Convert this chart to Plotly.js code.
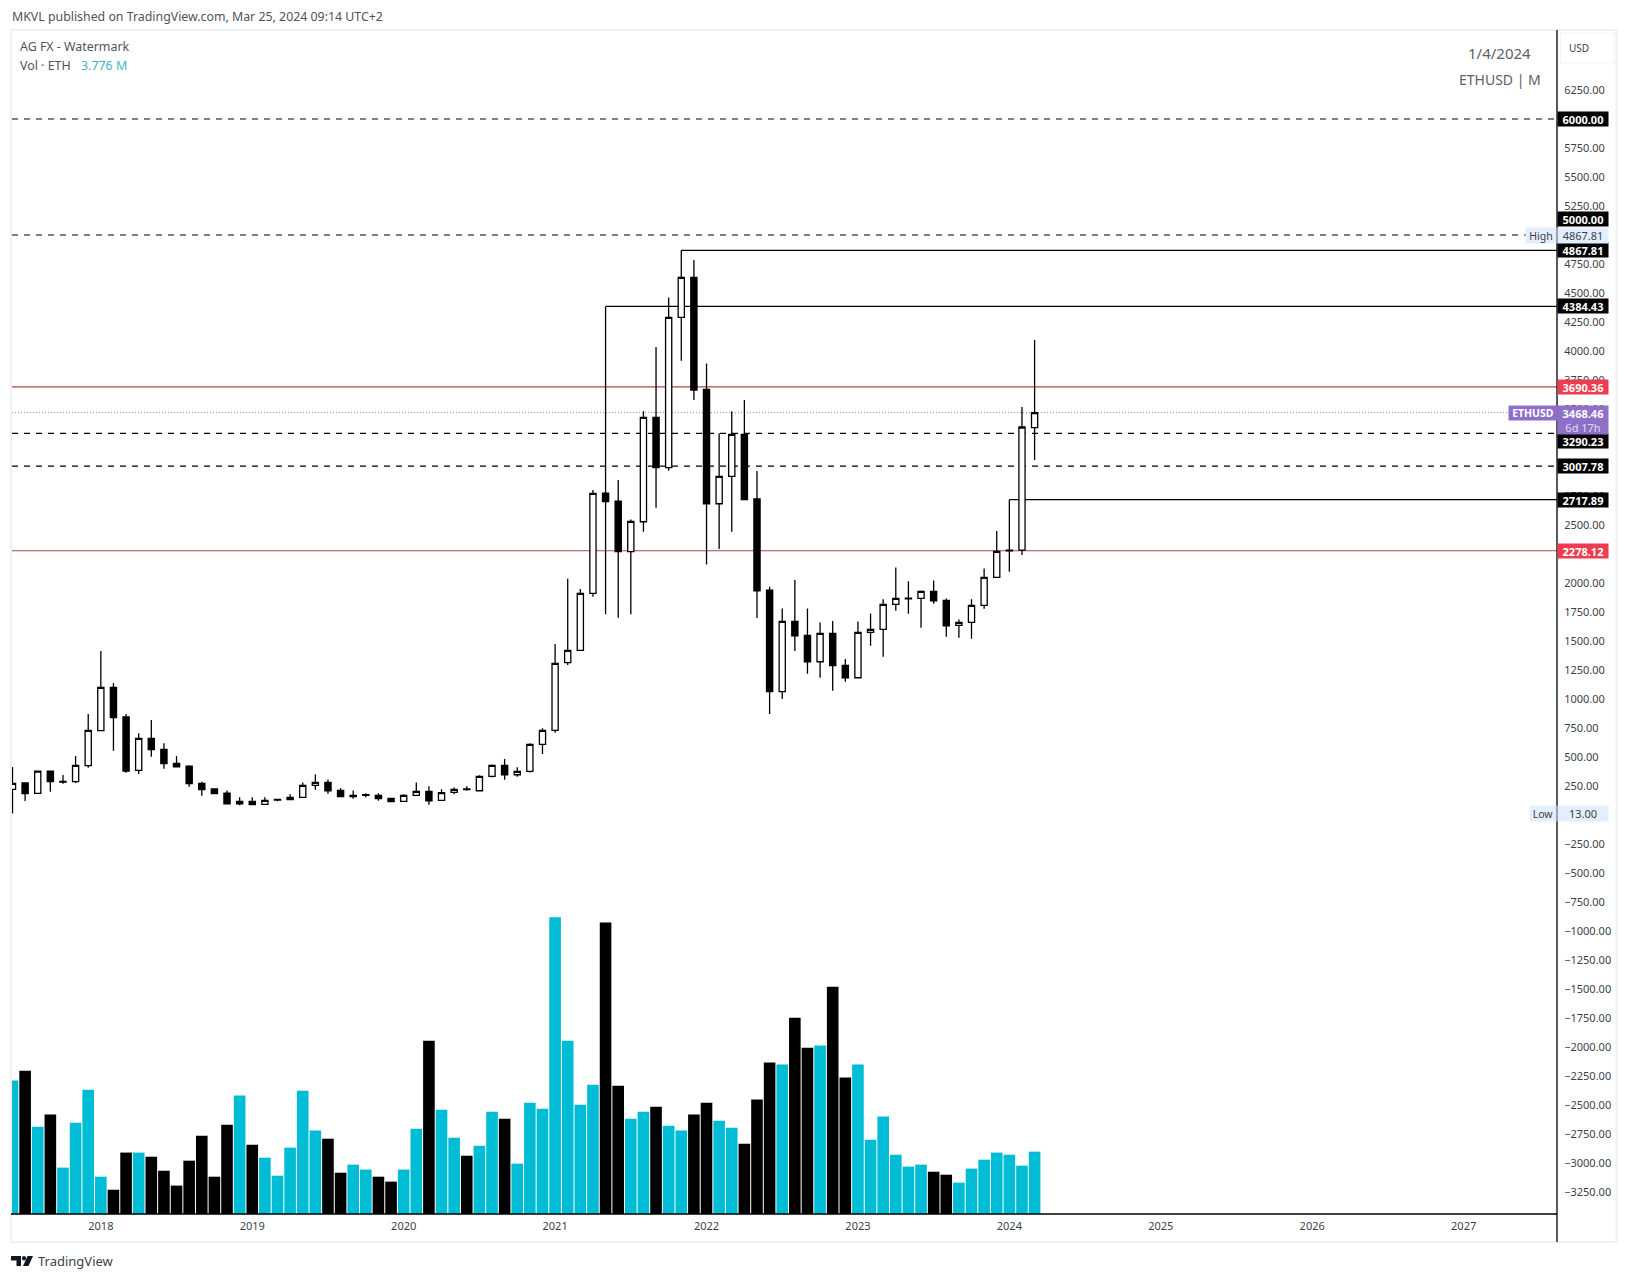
<!DOCTYPE html>
<html><head><meta charset="utf-8">
<script src="https://cdn.plot.ly/plotly-3.0.1.min.js"></script>
<style>html,body{margin:0;padding:0;background:#fff}#c{width:1629px;height:1280px}</style>
</head><body><div id="c"></div>
<script>
const open  = [221,276,187,379,284,287,425,727,1100,845,385,661,566,445,422,273,224,189,97,118,92,128,132,152,255,281,212,169,170,169,143,118,169,204,126,195,218,209,333,428,347,376,609,730,1314,1419,1910,2775,2706,2270,2528,3428,2994,4290,4635,3669,2683,2919,3281,2724,1939,1063,1669,1548,1321,1565,1289,1183,1574,1600,1816,1864,1867,1927,1850,1634,1660,1807,2048,2278,2283,3340];
const high  = [414,281,382,382,345,508,870,1414,1138,870,704,819,618,508,428,287,224,212,152,152,152,138,178,281,350,307,230,212,187,187,143,178,281,247,221,238,247,342,436,482,411,618,747,1474,2036,1948,2801,4384,2887,2548,3480,4034,4462,4868,4784,3893,3290,3480,3577,2965,1968,1781,2025,1781,1660,1672,1344,1669,1738,1859,2134,2014,1936,2022,1867,1686,1859,2126,2448,2717,3517,4095];
const low   = [13,120,187,201,270,276,408,727,554,365,353,503,399,414,244,166,183,97,83,89,92,118,132,152,218,184,158,141,152,123,115,118,169,89,126,178,209,209,324,304,330,367,526,710,1293,1419,1882,1730,1700,1730,2442,2649,2968,3916,3577,2160,2293,2442,2718,1698,871,999,1413,1218,1183,1071,1149,1183,1459,1364,1761,1735,1614,1821,1537,1528,1519,1778,2048,2097,2241,3060];
const close = [273,184,379,287,290,428,730,1100,839,379,661,563,442,416,270,218,184,97,118,89,126,135,152,255,281,209,158,158,175,141,115,169,204,123,192,221,224,333,428,347,376,609,730,1307,1419,1910,2772,2701,2270,2531,3428,2994,4290,4635,3663,2683,2919,3281,2718,1933,1063,1669,1545,1321,1565,1287,1183,1574,1600,1816,1867,1870,1927,1847,1631,1660,1807,2048,2272,2283,3345,3468.46];
const volumeM = [8.08,8.68,5.29,6.02,2.81,5.53,7.53,2.26,1.47,3.72,3.72,3.47,2.62,1.72,3.23,4.74,2.26,5.41,7.17,4.20,3.41,2.32,4.02,7.47,5.05,4.56,2.50,2.99,2.69,2.26,1.96,2.69,5.17,10.50,6.32,4.62,3.53,4.14,6.20,5.77,3.05,6.74,6.38,17.97,10.50,6.62,7.83,17.65,7.77,5.77,6.20,6.50,5.35,5.05,6.02,6.74,5.65,5.23,4.26,6.93,9.17,9.05,11.89,10.07,10.20,13.77,8.26,9.05,4.50,5.90,3.59,2.87,2.99,2.56,2.38,1.90,2.75,3.29,3.72,3.59,2.93,3.776];
const volumeDownBars = [1,3,8,9,11,12,13,14,15,16,17,19,25,26,29,30,33,36,39,47,48,51,54,55,58,59,60,62,63,65,66,73,74];
const yearBars = [7,19,31,43,55,67,79,91,103,115];
const yearLabels = ['2018','2019','2020','2021','2022','2023','2024','2025','2026','2027'];
const dashedLevels = [6000,5000,3290.23,3007.78];
const redLevels = [3690.36,2278.12];
const dottedLevel = 3468.46;
const originBars = [53,47,79];
const originLevels = [4867.81,4384.43,2717.89];
const blackLabels = ['6000.00','5000.00','4867.81','4384.43','3290.23','3007.78','2717.89'];
const blackLabelLevels = [6000,5000,4867.81,4384.43,3290.23,3007.78,2717.89];
const blackLabelShift = [0,-16,0,0,8,0,0];
const redLabels = ['3690.36','2278.12'];

const L=12,R=1557.5,T=31,B=1214;
const px=x=>(x-L)/(R-L), py=y=>(B-y)/(B-T);
const idx = open.map((_,i)=>i);
const FONT='"Noto Sans", sans-serif';
const XMAX=122.4;

const shapes=[];
dashedLevels.forEach(v=>shapes.push({type:'line',layer:'below',xref:'paper',x0:0,x1:1,yref:'y',y0:v,y1:v,line:{color:'#000',width:1.2,dash:'6px,6px'}}));
redLevels.forEach(v=>shapes.push({type:'line',layer:'below',xref:'paper',x0:0,x1:1,yref:'y',y0:v,y1:v,line:{color:'#b5434d',width:1.2}}));
shapes.push({type:'line',layer:'below',xref:'paper',x0:0,x1:1,yref:'y',y0:dottedLevel,y1:dottedLevel,line:{color:'#8a8d96',width:1,dash:'1px,2px'}});
originLevels.forEach((v,k)=>shapes.push({type:'line',layer:'below',xref:'x',x0:originBars[k],x1:XMAX,yref:'y',y0:v,y1:v,line:{color:'#000',width:1.3}}));
const rectP=(x0,y0,x1,y1,o)=>Object.assign({type:'rect',xref:'paper',yref:'paper',x0:px(x0),x1:px(x1),y0:py(y0),y1:py(y1)},o);
shapes.push(rectP(11,30,1617,1242,{line:{color:'#eff1f4',width:2}}));
shapes.push({type:'line',xref:'paper',yref:'paper',x0:1,x1:1,y0:py(30),y1:py(1242),line:{color:'#000',width:1.3}});
shapes.push({type:'line',xref:'paper',yref:'paper',x0:px(11),x1:1,y0:0,y1:0,line:{color:'#000',width:1.3}});
shapes.push(rectP(1561,33,1615,63,{line:{color:'#f2f3f6',width:1.2}}));
// TradingView mark
const P=(x,y)=>px(x).toFixed(5)+','+py(y).toFixed(5);
shapes.push({type:'path',xref:'paper',yref:'paper',fillcolor:'#131722',line:{width:0},path:'M'+P(11,1256)+'L'+P(21,1256)+'L'+P(21,1266)+'L'+P(16.5,1266)+'L'+P(16.5,1260.5)+'L'+P(11,1260.5)+'Z'});
shapes.push({type:'circle',xref:'paper',yref:'paper',fillcolor:'#131722',line:{width:0},x0:px(22),x1:px(26),y0:py(1260.5),y1:py(1256)});
shapes.push({type:'path',xref:'paper',yref:'paper',fillcolor:'#131722',line:{width:0},path:'M'+P(27.5,1256)+'L'+P(33,1256)+'L'+P(28.5,1266)+'L'+P(23,1266)+'Z'});

const ann=[];
const txt=(text,x,y,size,color,o)=>ann.push(Object.assign({text,xref:'paper',yref:'paper',x:px(x),y:py(y),xanchor:'left',yanchor:'middle',showarrow:false,font:{family:FONT,size,color}},o||{}));
txt('MKVL published on TradingView.com, Mar 25, 2024 09:14 UTC+2',9.5,16,12.35,'#50535e');
txt('AG FX - Watermark',18,46,12.4,'#50535e');
txt('Vol · ETH',18,65.5,12.4,'#50535e');
txt('3.776 M',79,65.5,12.4,'#3bb6c6');
txt('1/4/2024',1500,53,15,'#5d606b',{xanchor:'center'});
txt('ETHUSD | M',1500,79,14,'#5d606b',{xanchor:'center'});
txt('USD',1580,48,10,'#3c3f4a',{xanchor:'center'});
txt('TradingView',36,1261,13,'#3c3f4a');

const pill=(text,level,bg,color,shift,extra)=>ann.push(Object.assign({text,xref:'paper',x:1,xanchor:'left',xshift:0,yref:'y',y:level,yanchor:'middle',yshift:-shift,showarrow:false,width:50,height:14,align:'center',valign:'middle',bgcolor:bg,borderpad:0,font:{family:FONT,size:11,color,weight:'bold'}},extra||{}));
blackLabels.forEach((t,k)=>pill(t,blackLabelLevels[k],'#000','#fff',blackLabelShift[k]));
pill(redLabels[0],redLevels[0],'#ee3d50','#fff',0);
pill(redLabels[1],redLevels[1],'#ee3d50','#fff',0);
pill('4867.81',4995,'#e3effd','#3c3f4a',0,{font:{family:FONT,size:11,color:'#3c3f4a'},height:15});
pill('High',4995,'#e3effd','#3c3f4a',0,{x:px(1525),width:30,height:15,font:{family:FONT,size:10.5,color:'#3c3f4a'}});
pill('13.00',13,'#e3effd','#3c3f4a',0,{font:{family:FONT,size:11,color:'#3c3f4a'},height:15});
pill('Low',13,'#e3effd','#3c3f4a',0,{x:px(1529),width:26,height:15,font:{family:FONT,size:10.5,color:'#3c3f4a'}});
// last price tag
ann.push({text:'3468.46',xref:'paper',x:1,xanchor:'left',yref:'y',y:dottedLevel,yanchor:'middle',showarrow:false,width:50,height:14,bgcolor:'#8f70c9',borderpad:0,font:{family:FONT,size:11,color:'#fff',weight:'bold'}});
ann.push({text:'6d 17h',xref:'paper',x:1,xanchor:'left',yref:'y',y:dottedLevel,yanchor:'middle',yshift:-14,showarrow:false,width:50,height:14,bgcolor:'#8f70c9',borderpad:0,font:{family:FONT,size:11,color:'#e2d8f5'}});
ann.push({text:'ETHUSD',xref:'paper',x:px(1508),xanchor:'left',yref:'y',y:dottedLevel,yanchor:'middle',showarrow:false,width:48,height:14,bgcolor:'#8f70c9',borderpad:0,font:{family:FONT,size:10.5,color:'#fff',weight:'bold'}});

const volColor = volumeM.map((_,i)=>volumeDownBars.includes(i)?'#000':'#00bcd4');
const tv=[];for(let v=-3250;v<=6250;v+=250)tv.push(v);

Plotly.newPlot('c',[
 {type:'bar',x:idx,y:volumeM,yaxis:'y2',marker:{color:volColor,line:{width:0}},hoverinfo:'skip'},
 {type:'candlestick',x:idx,open,high,low,close,whiskerwidth:0,
  increasing:{line:{color:'#000',width:1.3},fillcolor:'#fff'},
  decreasing:{line:{color:'#000',width:1.3},fillcolor:'#000'}}
],{
 width:1629,height:1280,autosize:false,showlegend:false,bargap:0.08,
 paper_bgcolor:'#fff',plot_bgcolor:'#fff',
 margin:{l:L,r:1629-R,t:T,b:1280-B,pad:0},
 xaxis:{type:'linear',range:[-0.04,XMAX],tickmode:'array',tickvals:yearBars,ticktext:yearLabels,showgrid:false,zeroline:false,ticks:'',ticklabelstandoff:4,
   rangeslider:{visible:false},tickfont:{family:FONT,size:11,color:'#3c3f4a'},fixedrange:true},
 yaxis:{side:'right',range:[-3439.7,6758.6],tickmode:'array',tickvals:tv,tickformat:'.2f',showgrid:false,zeroline:false,ticks:'outside',ticklen:4,tickcolor:'rgba(0,0,0,0)',
   tickfont:{family:FONT,size:11,color:'#3c3f4a'},fixedrange:true},
 yaxis2:{overlaying:'y',side:'left',range:[0,71.65],showticklabels:false,showgrid:false,zeroline:false,ticks:'',fixedrange:true},
 shapes,annotations:ann
},{displayModeBar:false,staticPlot:true});
</script></body></html>
